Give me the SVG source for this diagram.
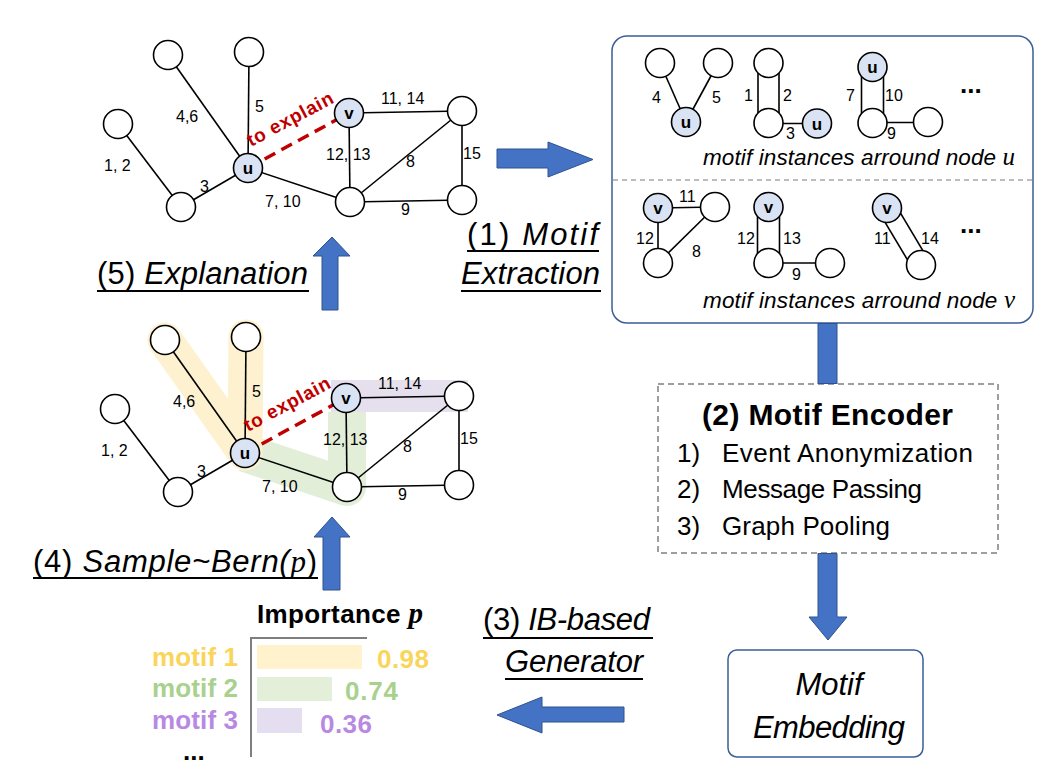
<svg xmlns="http://www.w3.org/2000/svg" width="1050" height="768" viewBox="0 0 1050 768">
<defs>
<style>
.n{fill:#fff;stroke:#000;stroke-width:1.6}
.nb{fill:#DAE3F3;stroke:#000;stroke-width:1.6}
.e{stroke:#000;stroke-width:1.6;fill:none}
.dash{stroke:#C00000;stroke-width:3.5;stroke-dasharray:12 7;fill:none}
.lbl{font-family:"Liberation Sans",Arial,sans-serif;font-size:16px;fill:#000}
.nl{font-family:"Liberation Sans",Arial,sans-serif;font-size:17px;font-weight:bold;text-anchor:middle;fill:#000}
.red{font-family:"Liberation Sans",Arial,sans-serif;font-size:19px;font-weight:bold;fill:#C00000}
.arrow{fill:#4472C4;stroke:#2F528F;stroke-width:1}
.big{font-family:"Liberation Sans",Arial,sans-serif;font-size:31px;fill:#000}
.it{font-style:italic}
.math{font-family:"Liberation Serif","Times New Roman",serif;font-style:italic}
.ul{stroke:#000;stroke-width:2}
.cap{font-family:"Liberation Sans",Arial,sans-serif;font-size:22.5px;font-style:italic;fill:#000}
.enc{font-family:"Liberation Sans",Arial,sans-serif;font-size:26px;fill:#000}
.bl{font-family:"Liberation Sans",Arial,sans-serif;font-weight:bold;font-size:26px}
.dots{font-family:"Liberation Sans",Arial,sans-serif;font-weight:bold;font-size:26px;fill:#000}
</style>
</defs>
<rect width="1050" height="768" fill="#fff"/>

<!-- ===== Top graph ===== -->
<g id="graph-top">
  <g id="top-edges">
    <line class="e" x1="118" y1="124" x2="181" y2="207"/>
    <line class="e" x1="181" y1="207" x2="248" y2="168"/>
    <line class="e" x1="168" y1="55" x2="248" y2="168"/>
    <line class="e" x1="249" y1="52" x2="248" y2="168"/>
    <line class="e" x1="248" y1="168" x2="350" y2="202"/>
    <line class="e" x1="349" y1="113" x2="462" y2="111"/>
    <line class="e" x1="349" y1="113" x2="350" y2="202"/>
    <line class="e" x1="350" y1="202" x2="462" y2="111"/>
    <line class="e" x1="350" y1="202" x2="462" y2="200"/>
    <line class="e" x1="462" y1="111" x2="462" y2="200"/>
    <line class="dash" x1="248" y1="168" x2="349" y2="113"/>
  </g>
  <g id="top-edge-labels">
    <text class="lbl" x="104" y="171">1, 2</text>
    <text class="lbl" x="200" y="192">3</text>
    <text class="lbl" x="176" y="122">4,6</text>
    <text class="lbl" x="255" y="112">5</text>
    <text class="lbl" x="265" y="207">7, 10</text>
    <text class="lbl" x="381" y="104">11, 14</text>
    <text class="lbl" x="326" y="160">12, 13</text>
    <text class="lbl" x="406" y="167">8</text>
    <text class="lbl" x="463" y="159">15</text>
    <text class="lbl" x="401" y="215">9</text>
    <text class="red" x="251" y="147" transform="rotate(-28 251 147)" textLength="95">to explain</text>
  </g>
  <g id="top-node-a"><circle class="n" cx="168" cy="55" r="14.5"/></g>
  <g id="top-node-b"><circle class="n" cx="249" cy="52" r="14.5"/></g>
  <g id="top-node-c"><circle class="n" cx="118" cy="124" r="14.5"/></g>
  <g id="top-node-d"><circle class="n" cx="181" cy="207" r="14.5"/></g>
  <g id="top-node-u"><circle class="nb" cx="248" cy="168" r="14.5"/><text class="nl" x="248" y="174">u</text></g>
  <g id="top-node-v"><circle class="nb" cx="349" cy="113" r="14.5"/><text class="nl" x="349" y="119">v</text></g>
  <g id="top-node-e"><circle class="n" cx="462" cy="111" r="14.5"/></g>
  <g id="top-node-f"><circle class="n" cx="350" cy="202" r="14.5"/></g>
  <g id="top-node-g"><circle class="n" cx="462" cy="200" r="14.5"/></g>
</g>

<!-- ===== Bottom graph (with highlighted motifs) ===== -->
<g id="graph-bottom" transform="translate(-3,285)">
  <g id="highlights">
    <rect x="334" y="95" width="137" height="32" fill="#E6E0EE"/>
    <polyline points="248,168 350,202 350,127" fill="none" stroke="#E3EED9" stroke-width="38" stroke-linejoin="round"/>
    <polyline points="168,55 248,168 249,52" fill="none" stroke="#FDF1CF" stroke-width="35" stroke-linejoin="round" stroke-linecap="round"/>
  </g>
  <g id="bottom-edges">
    <line class="e" x1="118" y1="124" x2="181" y2="207"/>
    <line class="e" x1="181" y1="207" x2="248" y2="168"/>
    <line class="e" x1="168" y1="55" x2="248" y2="168"/>
    <line class="e" x1="249" y1="52" x2="248" y2="168"/>
    <line class="e" x1="248" y1="168" x2="350" y2="202"/>
    <line class="e" x1="349" y1="113" x2="462" y2="111"/>
    <line class="e" x1="349" y1="113" x2="350" y2="202"/>
    <line class="e" x1="350" y1="202" x2="462" y2="111"/>
    <line class="e" x1="350" y1="202" x2="462" y2="200"/>
    <line class="e" x1="462" y1="111" x2="462" y2="200"/>
    <line class="dash" x1="248" y1="168" x2="349" y2="113"/>
  </g>
  <g id="bottom-edge-labels">
    <text class="lbl" x="104" y="171">1, 2</text>
    <text class="lbl" x="200" y="192">3</text>
    <text class="lbl" x="176" y="122">4,6</text>
    <text class="lbl" x="255" y="112">5</text>
    <text class="lbl" x="265" y="207">7, 10</text>
    <text class="lbl" x="381" y="104">11, 14</text>
    <text class="lbl" x="326" y="160">12, 13</text>
    <text class="lbl" x="406" y="167">8</text>
    <text class="lbl" x="463" y="159">15</text>
    <text class="lbl" x="401" y="215">9</text>
    <text class="red" x="251" y="147" transform="rotate(-28 251 147)" textLength="95">to explain</text>
  </g>
  <g id="bot-node-a"><circle class="n" cx="168" cy="55" r="14.5"/></g>
  <g id="bot-node-b"><circle class="n" cx="249" cy="52" r="14.5"/></g>
  <g id="bot-node-c"><circle class="n" cx="118" cy="124" r="14.5"/></g>
  <g id="bot-node-d"><circle class="n" cx="181" cy="207" r="14.5"/></g>
  <g id="bot-node-u"><circle class="nb" cx="248" cy="168" r="14.5"/><text class="nl" x="248" y="174">u</text></g>
  <g id="bot-node-v"><circle class="nb" cx="349" cy="113" r="14.5"/><text class="nl" x="349" y="119">v</text></g>
  <g id="bot-node-e"><circle class="n" cx="462" cy="111" r="14.5"/></g>
  <g id="bot-node-f"><circle class="n" cx="350" cy="202" r="14.5"/></g>
  <g id="bot-node-g"><circle class="n" cx="462" cy="200" r="14.5"/></g>
</g>

<!-- ===== Motif instances box ===== -->
<g id="motif-box">
  <rect x="612" y="36" width="421" height="287" rx="15" fill="#fff" stroke="#3B5E99" stroke-width="1.5"/>
  <line x1="613" y1="180" x2="1032" y2="180" stroke="#A6A6A6" stroke-width="1.3" stroke-dasharray="5 4"/>
  <g id="mu1">
    <line class="e" x1="660" y1="63" x2="686" y2="122"/>
    <line class="e" x1="718" y1="63" x2="686" y2="122"/>
    <circle class="n" cx="660" cy="63" r="14.5"/>
    <circle class="n" cx="718" cy="63" r="14.5"/>
    <circle class="nb" cx="686" cy="122" r="14.5"/><text class="nl" x="686" y="128">u</text>
    <text class="lbl" x="652" y="103">4</text><text class="lbl" x="712" y="103">5</text>
  </g>
  <g id="mu2">
    <line class="e" x1="758" y1="63" x2="758" y2="123"/>
    <line class="e" x1="779" y1="63" x2="779" y2="123"/>
    <line class="e" x1="768" y1="123.5" x2="817" y2="123.5"/>
    <circle class="n" cx="768.5" cy="63" r="14.5"/>
    <circle class="n" cx="768.5" cy="123" r="14.5"/>
    <circle class="nb" cx="817" cy="123.5" r="14.5"/><text class="nl" x="817" y="129.5">u</text>
    <text class="lbl" x="744" y="101">1</text><text class="lbl" x="783" y="101">2</text><text class="lbl" x="786" y="139">3</text>
  </g>
  <g id="mu3">
    <line class="e" x1="861.5" y1="67" x2="861.5" y2="123"/>
    <line class="e" x1="883.5" y1="67" x2="883.5" y2="123"/>
    <line class="e" x1="872" y1="122.5" x2="928" y2="122.5"/>
    <circle class="nb" cx="872.5" cy="67" r="14.5"/><text class="nl" x="872.5" y="73">u</text>
    <circle class="n" cx="872.5" cy="123" r="14.5"/>
    <circle class="n" cx="928" cy="122" r="14.5"/>
    <text class="lbl" x="846" y="101">7</text><text class="lbl" x="885" y="101">10</text><text class="lbl" x="887" y="139">9</text>
  </g>
  <text class="dots" x="960" y="93">...</text>
  <text class="cap" x="703" y="165" textLength="312">motif instances arround node <tspan class="math" font-size="25">u</tspan></text>
  <g id="mv1">
    <line class="e" x1="658" y1="208" x2="715" y2="207"/>
    <line class="e" x1="658" y1="208" x2="658" y2="263"/>
    <line class="e" x1="658" y1="263" x2="715" y2="207"/>
    <circle class="nb" cx="658" cy="208" r="14.5"/><text class="nl" x="658" y="214">v</text>
    <circle class="n" cx="715" cy="207" r="14.5"/>
    <circle class="n" cx="658" cy="263" r="14.5"/>
    <text class="lbl" x="679" y="202">11</text><text class="lbl" x="636" y="244">12</text><text class="lbl" x="692" y="257">8</text>
  </g>
  <g id="mv2">
    <line class="e" x1="757.5" y1="207" x2="757.5" y2="263"/>
    <line class="e" x1="779.5" y1="207" x2="779.5" y2="263"/>
    <line class="e" x1="768" y1="263" x2="830" y2="263"/>
    <circle class="nb" cx="768.5" cy="207" r="14.5"/><text class="nl" x="768.5" y="213">v</text>
    <circle class="n" cx="768.5" cy="263" r="14.5"/>
    <circle class="n" cx="830" cy="263" r="14.5"/>
    <text class="lbl" x="737" y="244">12</text><text class="lbl" x="783" y="244">13</text><text class="lbl" x="792" y="280">9</text>
  </g>
  <g id="mv3">
    <line class="e" x1="879.3" y1="212.6" x2="913.3" y2="269.6"/>
    <line class="e" x1="894.7" y1="203.4" x2="928.7" y2="260.4"/>
    <circle class="nb" cx="887" cy="208" r="14.5"/><text class="nl" x="887" y="214">v</text>
    <circle class="n" cx="921" cy="265" r="14.5"/>
    <text class="lbl" x="874" y="244">11</text><text class="lbl" x="921" y="244">14</text>
  </g>
  <text class="dots" x="960" y="233">...</text>
  <text class="cap" x="703" y="308" textLength="312">motif instances arround node <tspan class="math" font-size="25">v</tspan></text>
</g>

<!-- ===== Motif encoder ===== -->
<g id="motif-encoder">
  <rect x="658" y="384" width="340" height="169" fill="#fff" stroke="#7F7F7F" stroke-width="1.5" stroke-dasharray="6 4"/>
  <text x="702" y="425" font-family="Liberation Sans, Arial, sans-serif" font-size="30" font-weight="bold" textLength="251">(2) Motif Encoder</text>
  <text class="enc" x="677" y="462">1)</text><text class="enc" x="722" y="462" textLength="251">Event Anonymization</text>
  <text class="enc" x="677" y="498">2)</text><text class="enc" x="722" y="498" textLength="200">Message Passing</text>
  <text class="enc" x="677" y="535">3)</text><text class="enc" x="722" y="535" textLength="168">Graph Pooling</text>
</g>

<!-- ===== Motif embedding ===== -->
<g id="motif-embedding">
  <rect x="728" y="650" width="195" height="107" rx="9" fill="#fff" stroke="#3B5E99" stroke-width="1.5"/>
  <text class="big it" x="829" y="695" text-anchor="middle">Motif</text>
  <text class="big it" x="829" y="738" text-anchor="middle" textLength="152">Embedding</text>
</g>

<!-- ===== Importance chart ===== -->
<g id="importance">
  <text x="257" y="623" font-family="Liberation Sans, Arial, sans-serif" font-size="26" font-weight="bold" textLength="166">Importance <tspan font-family="Liberation Serif, Times New Roman, serif" font-style="italic" font-size="29">p</tspan></text>
  <polyline points="367,638 251,638 251,757" fill="none" stroke="#7F7F7F" stroke-width="2"/>
  <rect x="257" y="645" width="105" height="24" fill="#FFF2CC"/>
  <rect x="257" y="677" width="75" height="24" fill="#E3EFD9"/>
  <rect x="257" y="708" width="45" height="25" fill="#E5DDF0"/>
  <text class="bl" x="238" y="666" text-anchor="end" fill="#F9D55B" textLength="86">motif 1</text>
  <text class="bl" x="238" y="697" text-anchor="end" fill="#A9D18E" textLength="86">motif 2</text>
  <text class="bl" x="238" y="729" text-anchor="end" fill="#B889E3" textLength="86">motif 3</text>
  <text class="bl" x="377" y="668" fill="#F9D55B" textLength="52">0.98</text>
  <text class="bl" x="345" y="700" fill="#A9D18E" textLength="53">0.74</text>
  <text class="bl" x="320" y="733" fill="#B889E3" textLength="52">0.36</text>
  <text class="dots" x="183" y="760">...</text>
</g>

<!-- ===== Step labels ===== -->
<g id="labels">
  <text class="big" x="467" y="245" textLength="131">(1) <tspan class="it">Motif</tspan></text>
  <line class="ul" x1="467" y1="251" x2="599" y2="251"/>
  <text class="big it" x="461" y="284" textLength="139">Extraction</text>
  <line class="ul" x1="461" y1="291" x2="601" y2="291"/>

  <text class="big" x="97" y="284" textLength="211">(5) <tspan class="it">Explanation</tspan></text>
  <line class="ul" x1="97" y1="291" x2="309" y2="291"/>

  <text class="big" x="33" y="572" textLength="284">(4) <tspan class="it">Sample~Bern(</tspan><tspan class="math">p</tspan><tspan>)</tspan></text>
  <line class="ul" x1="33" y1="578" x2="318" y2="578"/>

  <text class="big" x="483" y="630" textLength="167">(3) <tspan class="it">IB-based</tspan></text>
  <line class="ul" x1="483" y1="638" x2="653" y2="638"/>
  <text class="big it" x="505" y="672" textLength="138">Generator</text>
  <line class="ul" x1="505" y1="679" x2="643" y2="679"/>
</g>

<!-- ===== Connectors (block arrows) ===== -->
<g id="connectors">
  <polygon class="arrow" points="497,149 548,149 548,142 593,159.5 548,177 548,168 497,168"/>
  <polygon class="arrow" points="322,310 322,256 313,256 332,237 350,256 338,256 338,310"/>
  <polygon class="arrow" points="323,590 323,537 314,537 332,517 350,537 340,537 340,590"/>
  <rect class="arrow" x="818" y="323.5" width="19" height="60"/>
  <polygon class="arrow" points="818,553.5 837,553.5 837,617 847,617 828,640 809,617 818,617"/>
  <polygon class="arrow" points="624,707 542,707 542,697 497,715 542,733 542,722 624,722"/>
</g>
</svg>
